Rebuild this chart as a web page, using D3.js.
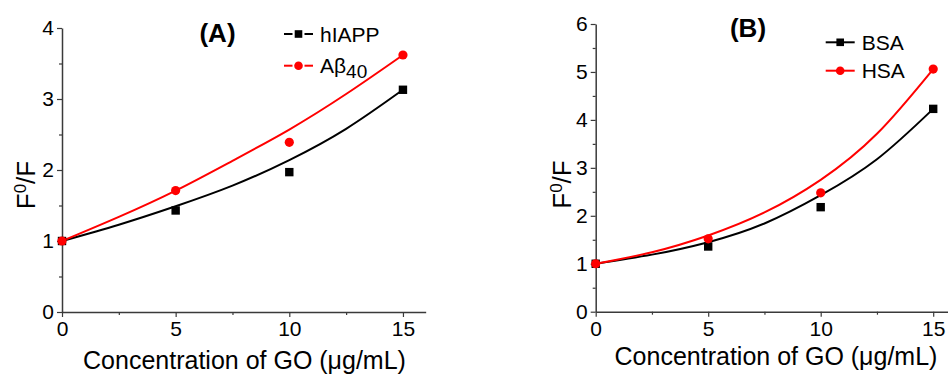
<!DOCTYPE html>
<html>
<head>
<meta charset="utf-8">
<script src="https://cdn.jsdelivr.net/npm/d3@7"></script>
<style>
  html, body { margin: 0; padding: 0; background: #fff; }
  svg { display: block; font-family: "Liberation Sans", Arial, sans-serif; }
</style>
</head>
<body>
<svg id="chart" width="948" height="375"></svg>
<script>
// GO concentration (µg/mL) of the measured points
const conc = [0, 5, 10, 15];

// Panel A: quenching ratio F0/F for amyloid peptides
const hIAPP   = [1.00, 1.43, 1.97, 3.13];
const abeta40 = [1.00, 1.71, 2.39, 3.62];

// Panel B: quenching ratio F0/F for serum albumins
const bsa = [1.00, 1.36, 2.18, 4.23];
const hsa = [1.00, 1.52, 2.48, 5.06];

// Fitted trend curves, sampled along the concentration axis
const fitConc    = [0, 2.5, 5, 7.5, 10, 12.5, 15];
const hIAPPFit   = [1.00, 1.23, 1.49, 1.78, 2.14, 2.58, 3.13];
const abeta40Fit = [1.00, 1.34, 1.71, 2.13, 2.57, 3.07, 3.62];
const bsaFit     = [1.00, 1.19, 1.45, 1.84, 2.43, 3.18, 4.23];
const hsaFit     = [1.00, 1.24, 1.59, 2.07, 2.75, 3.71, 5.06];

// Axis ticks
const xTicks = [0, 5, 10, 15];
const xMinor = [2.5, 7.5, 12.5];
const yTicksA = [0, 1, 2, 3, 4];
const yMinorA = [0.5, 1.5, 2.5, 3.5];
const yTicksB = [0, 1, 2, 3, 4, 5, 6];
const yMinorB = [0.5, 1.5, 2.5, 3.5, 4.5, 5.5];

const xTitle = "Concentration of GO (\u03bcg/mL)";

const svg = d3.select("#chart");
const AXIS = "#3a3a3a";
const RED = "#ff0000";

function panel(cfg) {
  const x = d3.scaleLinear().domain([0, 16]).range([cfg.x0, cfg.x0 + cfg.xUnit * 16]);
  const y = d3.scaleLinear().domain(cfg.yDomain).range([cfg.yBottom, cfg.yTop]);
  const g = svg.append("g");

  // minor ticks
  g.append("g").attr("transform", `translate(0,${cfg.yBottom})`)
    .call(d3.axisBottom(x).tickValues(xMinor).tickSize(3).tickFormat(""))
    .call(s => s.select(".domain").remove())
    .call(s => s.selectAll("line").attr("stroke", AXIS).attr("stroke-width", 1.2));
  g.append("g").attr("transform", `translate(${cfg.x0},0)`)
    .call(d3.axisLeft(y).tickValues(cfg.yMinor).tickSize(3).tickFormat(""))
    .call(s => s.select(".domain").remove())
    .call(s => s.selectAll("line").attr("stroke", AXIS).attr("stroke-width", 1.2));

  // major axes
  const xa = g.append("g").attr("transform", `translate(0,${cfg.yBottom})`)
    .call(d3.axisBottom(x).tickValues(xTicks).tickSize(5).tickSizeOuter(0).tickPadding(4).tickFormat(d3.format("d")));
  const ya = g.append("g").attr("transform", `translate(${cfg.x0},0)`)
    .call(d3.axisLeft(y).tickValues(cfg.yTicks).tickSize(5).tickSizeOuter(0).tickPadding(3).tickFormat(d3.format("d")));
  [xa, ya].forEach(a => {
    a.select(".domain").attr("stroke", AXIS).attr("stroke-width", 1.5);
    a.selectAll(".tick line").attr("stroke", AXIS).attr("stroke-width", 1.2);
    a.selectAll(".tick text").attr("fill", "#000").style("font-size", "21px")
      .style("font-family", "'Liberation Sans', Arial, sans-serif");
  });

  // fitted curves
  const line = d3.line().x(d => x(d[0])).y(d => y(d[1])).curve(d3.curveNatural);
  cfg.series.forEach(s => {
    g.append("path")
      .datum(d3.zip(fitConc, s.fit))
      .attr("d", line)
      .attr("fill", "none")
      .attr("stroke", s.color)
      .attr("stroke-width", 2);
  });

  // data markers
  cfg.series.forEach(s => {
    const pts = d3.zip(conc, s.values);
    if (s.shape === "square") {
      g.selectAll(null).data(pts).join("rect")
        .attr("x", d => x(d[0]) - 4.2).attr("y", d => y(d[1]) - 4.2)
        .attr("width", 8.4).attr("height", 8.4).attr("fill", s.color);
    } else {
      g.selectAll(null).data(pts).join("circle")
        .attr("cx", d => x(d[0])).attr("cy", d => y(d[1]))
        .attr("r", 4.6).attr("fill", s.color);
    }
  });

  // axis titles
  g.append("text")
    .attr("x", cfg.xTitleX).attr("y", cfg.xTitleY)
    .attr("text-anchor", "middle")
    .style("font-size", "25px")
    .text(xTitle);

  const yl = g.append("text")
    .attr("transform", `translate(${cfg.yTitleX},${cfg.yTitleY}) rotate(-90)`)
    .attr("text-anchor", "middle")
    .style("font-size", "26px");
  yl.append("tspan").text("F");
  yl.append("tspan").attr("dy", -9).style("font-size", "17px").text("0");
  yl.append("tspan").attr("dy", 9).text("/F");

  // panel label
  g.append("text")
    .attr("x", cfg.labelX).attr("y", cfg.labelY)
    .attr("text-anchor", "middle")
    .style("font-size", "26px").style("font-weight", "bold")
    .text(cfg.label);

  // legend
  cfg.series.forEach((s, i) => {
    const ly = cfg.legY + i * cfg.legGap;
    const lx0 = cfg.legX, lx1 = cfg.legX + 29, mx = (lx0 + lx1) / 2;
    if (cfg.legGapped) {
      g.append("line").attr("x1", lx0).attr("x2", mx - 6).attr("y1", ly).attr("y2", ly)
        .attr("stroke", s.color).attr("stroke-width", 2);
      g.append("line").attr("x1", mx + 6).attr("x2", lx1).attr("y1", ly).attr("y2", ly)
        .attr("stroke", s.color).attr("stroke-width", 2);
    } else {
      g.append("line").attr("x1", lx0).attr("x2", lx1).attr("y1", ly).attr("y2", ly)
        .attr("stroke", s.color).attr("stroke-width", 2);
    }
    if (s.shape === "square") {
      g.append("rect").attr("x", mx - 3.8).attr("y", ly - 3.8).attr("width", 7.6).attr("height", 7.6).attr("fill", s.color);
    } else {
      g.append("circle").attr("cx", mx).attr("cy", ly).attr("r", 4.3).attr("fill", s.color);
    }
    const t = g.append("text")
      .attr("x", lx1 + 7).attr("y", ly + 7.5)
      .style("font-size", "21px");
    s.legend.forEach(part => {
      const sp = t.append("tspan").text(part.text);
      if (part.sub) sp.attr("dy", 5).style("font-size", "19px");
    });
  });
}

panel({
  x0: 62, xUnit: 22.73, yBottom: 312, yTop: 28, yDomain: [0, 4],
  yTicks: yTicksA, yMinor: yMinorA,
  xTitleX: 244.5, xTitleY: 369,
  yTitleX: 35, yTitleY: 185,
  label: "(A)", labelX: 217.5, labelY: 42,
  legX: 284, legY: 34, legGap: 31.7, legGapped: true,
  series: [
    { values: hIAPP, fit: hIAPPFit, color: "#000", shape: "square", legend: [{ text: "hIAPP" }] },
    { values: abeta40, fit: abeta40Fit, color: RED, shape: "circle", legend: [{ text: "A\u03b2" }, { text: "40", sub: true }] }
  ]
});

panel({
  x0: 595.7, xUnit: 22.5, yBottom: 311.7, yTop: 24, yDomain: [0, 6],
  yTicks: yTicksB, yMinor: yMinorB,
  xTitleX: 776, xTitleY: 365,
  yTitleX: 570.5, yTitleY: 184.5,
  label: "(B)", labelX: 748, labelY: 37,
  legX: 825.7, legY: 42.3, legGap: 28.4, legGapped: false,
  series: [
    { values: bsa, fit: bsaFit, color: "#000", shape: "square", legend: [{ text: "BSA" }] },
    { values: hsa, fit: hsaFit, color: RED, shape: "circle", legend: [{ text: "HSA" }] }
  ]
});
</script>
</body>
</html>
